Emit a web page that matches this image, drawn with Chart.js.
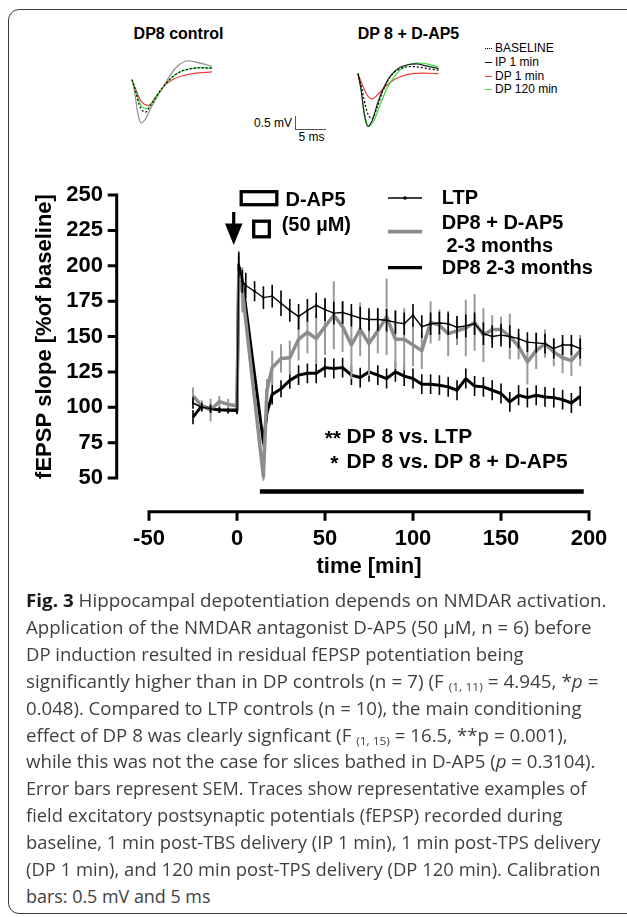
<!DOCTYPE html>
<html>
<head>
<meta charset="utf-8">
<title>Fig. 3</title>
<script src="https://cdn.jsdelivr.net/npm/chart.js@4.4.1/dist/chart.umd.min.js"></script>
<style>
  html, body { margin: 0; padding: 0; background: #fff; }
  body { position: relative; width: 627px; height: 917px; overflow: hidden; font-family: "Liberation Sans", Arial, sans-serif; color: #000; }
  #frame { position: absolute; left: 8px; top: 9px; width: 660px; height: 905px; border: 1.7px solid #3a3a3a; border-radius: 11px; box-sizing: border-box; }
  .abs { position: absolute; white-space: nowrap; }
  .ttl { font-size: 16px; font-weight: bold; transform: translate(-50%, -50%); }
  .tl { font-size: 12px; line-height: 14px; transform: translateY(-50%); }
  .dash { position: absolute; width: 6.5px; height: 0; border-top: 1.2px solid #000; }
  .cap { left: 25.5px; font-family: "Open Sans", sans-serif; font-size: 18px; line-height: 26px; color: #3f3f3f; transform-origin: 0 50%; }
  .cap b { color: #1a1a1a; }
  .cap sub { font-size: 11.5px; vertical-align: -3px; line-height: 0; }
  canvas { position: absolute; }
</style>
</head>
<body>
<div id="frame"></div>

<div class="abs ttl" style="left:178.5px; top:33.5px">DP8 control</div>
<div class="abs ttl" style="left:408.5px; top:33.5px">DP 8 + D-AP5</div>

<div class="dash" style="left:485px; top:48px; border-top-style:dotted"></div>
<div class="abs tl" style="left:495px; top:48.3px">BASELINE</div>
<div class="dash" style="left:485px; top:62px"></div>
<div class="abs tl" style="left:495px; top:62.3px">IP 1 min</div>
<div class="dash" style="left:485px; top:75.5px; border-color:#f03c3c"></div>
<div class="abs tl" style="left:495px; top:75.7px">DP 1 min</div>
<div class="dash" style="left:485px; top:89px; border-color:#33e033"></div>
<div class="abs tl" style="left:495px; top:89px">DP 120 min</div>

<div class="abs tl" style="right:335px; top:123.3px">0.5 mV</div>
<div class="abs" style="left:294.5px; top:116px; width:0; height:13.3px; border-left:1px solid #555"></div>
<div class="abs" style="left:294.5px; top:129px; width:31.5px; height:0; border-top:1px solid #555"></div>
<div class="abs tl" style="left:298.5px; top:137.3px">5 ms</div>

<canvas id="trCtrl" width="87" height="85" style="left:128.7px; top:54.3px"></canvas>
<canvas id="trDap" width="87" height="85" style="left:355px; top:47.6px"></canvas>
<canvas id="main" width="627" height="600" style="left:0; top:0"></canvas>

<div id="caption"></div>

<script>
// time course, min vs fEPSP slope (% of baseline)
const ltpTime = [-25, -20, -15, -10, -5, 0, 1, 3, 5,
  10, 15, 20, 25, 30, 35, 40, 45, 50, 55, 60, 65, 70, 75, 80, 85, 90, 95, 100, 105,
  110, 115, 120, 125, 130, 135, 140, 145, 150, 155, 160, 165, 170, 175, 180, 185, 190, 195];
const ltpMean = [103, 100, 99, 98, 97.5, 97, 201, 189, 186,
  182, 177.5, 178.5, 173.5, 168.5, 164, 168.5, 172, 169, 166.5, 167, 165, 163, 162, 162, 161.5, 160, 159, 165, 157,
  159, 159.5, 159, 156.5, 157.5, 159, 152, 150, 151, 150, 148.5, 146, 145.5, 145, 141.5, 144, 144, 141.5];
const ltpSem = [4, 3, 3, 2, 2, 2, 9, 8, 9,
  7, 8, 8, 9, 8, 9, 8, 9, 8, 8, 8, 8, 8, 8, 8, 8, 8, 8, 8, 8,
  8, 8, 8, 8, 8, 8, 8, 8, 8, 8, 7, 7, 7, 7, 7, 7, 7, 7];

const dapTime = [-25, -20, -15, -10, -5, 0, 1, 3, 15, 17,
  20, 25, 30, 35, 40, 45, 50, 55, 60, 65, 70, 75, 80, 85, 90, 95, 100, 105,
  110, 115, 120, 125, 130, 135, 140, 145, 150, 155, 160, 165, 170, 175, 180, 185, 190, 195];
const dapMean = [108, 101, 98, 104, 102, 101, 196, 183, 51, 112,
  128, 134.5, 135, 148, 153, 148.5, 157, 165, 157, 144, 155, 145, 154, 164, 148, 148, 144, 140,
  160, 158, 152, 154, 156, 160, 151, 155, 155, 150, 143, 132, 140, 145, 139, 135, 133, 140];
const dapSem = [6, 4, 8, 4, 4, 3, 12, 16, 3, 8,
  12, 10, 12, 15, 15, 18, 20, 24, 18, 24, 19, 23, 16, 27, 21, 22, 15, 13,
  15, 11, 16, 10, 20, 20, 19, 10, 9, 16, 9, 16, 13, 10, 10, 11, 11, 11];

const dp8Time = [-25, -20, -15, -10, -5, 0, 1, 3, 15, 17,
  20, 25, 30, 35, 40, 45, 50, 55, 60, 65, 70, 75, 80, 85, 90, 95, 100, 105,
  110, 115, 120, 125, 130, 135, 140, 145, 150, 155, 160, 165, 170, 175, 180, 185, 190, 195];
const dp8Mean = [93, 101, 99, 98, 98, 98, 200, 190, 75, 96,
  109, 113, 119, 122.7, 124, 124, 128, 127.4, 128, 122.7, 121, 125, 122.7, 120.3, 125, 122, 120.3, 116.3,
  116.3, 115.6, 114.4, 112, 120.3, 115, 114.4, 112, 109.7, 103.8, 108.5, 106.8, 108.5, 107.3, 106.8, 105.4, 103, 107.8];
const dp8Sem = [5, 3, 2, 2, 2, 2, 8, 8, 3, 6,
  7, 6, 6, 7, 7, 7, 7, 7, 7, 7, 7, 7, 7, 7, 7, 7, 7, 7,
  7, 7, 7, 7, 7, 7, 7, 7, 7, 7, 7, 7, 7, 7, 7, 7, 7, 7];

// significance bar (min) and its level (% baseline)
const sigBarTime = [13, 197];
const sigBarLevel = 40.5;

// example traces, [ms, mV]
const ctrlBaseline = [[0,0],[0.5,-0.36],[1.2,-0.96],[2.15,-1.21],[3,-0.96],[4,-0.6],[5.1,-0.25],[6.3,0.06],[7.8,0.3],[9.5,0.41],[11,0.44],[12.9,0.43]];
const ctrlIP1 = [[0,0],[0.4,-0.42],[0.9,-1.2],[1.45,-1.62],[2.1,-1.5],[3,-1.08],[4,-0.66],[5.1,-0.25],[6.2,0.18],[7.5,0.54],[9.1,0.71],[11,0.62],[12.9,0.5]];
const ctrlDP1 = [[0,0],[0.5,-0.3],[1.4,-0.78],[2.7,-0.96],[3.6,-0.72],[5.1,-0.25],[6.5,0],[8,0.14],[10,0.24],[12.9,0.29]];
const ctrlDP120 = [[0,0],[0.5,-0.34],[1.3,-0.9],[2.4,-1.09],[3.2,-0.86],[4.1,-0.56],[5.1,-0.25],[6.3,0.06],[7.8,0.3],[9.5,0.42],[11,0.45],[12.9,0.44]];
const dapBaseline = [[0,0],[0.6,-0.54],[1.4,-1.38],[2.26,-1.69],[3,-1.32],[4,-0.66],[5.2,-0.12],[6.8,0.18],[8.5,0.27],[10,0.24],[11.5,0.18],[13,0.13]];
const dapIP1 = [[0,0],[0.5,-0.6],[1,-1.5],[1.6,-1.97],[2.3,-1.74],[3.2,-1.08],[4.2,-0.5],[5.3,-0.06],[6.8,0.24],[8.3,0.35],[9.4,0.37],[11,0.29],[13,0.19]];
const dapDP1 = [[0,0],[0.6,-0.36],[1.4,-0.78],[2.26,-0.94],[3.2,-0.78],[4.5,-0.46],[6,-0.2],[7.5,-0.06],[8.7,0],[10.5,0.02],[13,0]];
const dapDP120 = [[0,0],[0.5,-0.6],[1,-1.44],[1.74,-1.97],[2.6,-1.74],[3.6,-1.14],[4.7,-0.54],[6,-0.06],[7.5,0.26],[9.7,0.4],[11.5,0.35],[13,0.25]];

const FONT = '"Liberation Sans", Arial, sans-serif';
Chart.defaults.font.family = FONT;
Chart.defaults.color = '#000';

function xy(t, v) {
  return t.map((x, i) => ({ x: x, y: v[i] }));
}

// traces
function traceChart(id, sets) {
  new Chart(document.getElementById(id), {
    type: 'line',
    data: {
      datasets: sets.map(s => ({
        data: s.pts.map(p => ({ x: p[0], y: p[1] })),
        borderColor: s.color,
        borderWidth: 1.2,
        borderDash: s.dash || [],
        pointRadius: 0,
        cubicInterpolationMode: 'monotone',
        clip: false
      }))
    },
    options: {
      responsive: false,
      animation: false,
      events: [],
      layout: { padding: { left: 3, top: 3, right: 3.4, bottom: 3.2 } },
      plugins: { legend: { display: false }, tooltip: { enabled: false } },
      scales: {
        x: { type: 'linear', display: false, min: 0, max: 13 },
        y: { display: false, min: -2.1, max: 0.85 }
      }
    }
  });
}

traceChart('trCtrl', [
  { pts: ctrlBaseline, color: '#000', dash: [2, 2] },
  { pts: ctrlDP120, color: '#33e033' },
  { pts: ctrlDP1, color: '#f03c3c' },
  { pts: ctrlIP1, color: '#8a8a8a' }
]);
traceChart('trDap', [
  { pts: dapBaseline, color: '#000', dash: [2, 2] },
  { pts: dapIP1, color: '#222' },
  { pts: dapDP120, color: '#33e033' },
  { pts: dapDP1, color: '#f03c3c' }
]);

// error bars under each line
const errorBars = {
  id: 'errorBars',
  beforeDatasetDraw(chart, args) {
    const ds = chart.data.datasets[args.index];
    if (!ds.sem) return;
    const { ctx, scales: { x, y } } = chart;
    ctx.save();
    ctx.strokeStyle = ds.errColor;
    ctx.lineWidth = ds.errWidth;
    ctx.beginPath();
    ds.data.forEach((p, i) => {
      const px = x.getPixelForValue(p.x);
      ctx.moveTo(px, y.getPixelForValue(p.y - ds.sem[i]));
      ctx.lineTo(px, y.getPixelForValue(p.y + ds.sem[i]));
    });
    ctx.stroke();
    ctx.restore();
  }
};

// detached axes like prism
const axisLines = {
  id: 'axisLines',
  afterDraw(chart) {
    const { ctx, chartArea, scales: { x, y } } = chart;
    const ax = chartArea.left - 32.3;
    const ay = chartArea.bottom + 33.7;
    ctx.save();
    ctx.strokeStyle = '#000';
    ctx.lineWidth = 3;
    ctx.beginPath();
    ctx.moveTo(ax, y.getPixelForValue(y.max) - 1.5);
    ctx.lineTo(ax, y.getPixelForValue(y.min) + 1.5);
    y.ticks.forEach(t => {
      const py = y.getPixelForValue(t.value);
      ctx.moveTo(ax - 9, py);
      ctx.lineTo(ax, py);
    });
    ctx.moveTo(x.getPixelForValue(x.min) - 1.5, ay);
    ctx.lineTo(x.getPixelForValue(x.max) + 1.5, ay);
    x.ticks.forEach(t => {
      const px = x.getPixelForValue(t.value);
      ctx.moveTo(px, ay);
      ctx.lineTo(px, ay + 9);
    });
    ctx.stroke();
    ctx.restore();
  }
};

// D-AP5 marks, legend, stats
const annotations = {
  id: 'annotations',
  afterDraw(chart) {
    const ctx = chart.ctx;
    const ds = chart.data.datasets;
    ctx.save();
    ctx.fillStyle = '#000';
    ctx.strokeStyle = '#000';

    // induction arrow
    ctx.fillRect(232.1, 212, 3.2, 12);
    ctx.beginPath();
    ctx.moveTo(225, 223.5);
    ctx.lineTo(242.5, 223.5);
    ctx.lineTo(233.7, 245);
    ctx.closePath();
    ctx.fill();

    // D-AP5 boxes
    ctx.lineWidth = 3.3;
    ctx.strokeRect(241.2, 191.7, 35.6, 13);
    ctx.strokeRect(253.7, 221.2, 15.6, 15.6);

    ctx.font = 'bold 20px ' + FONT;
    ctx.textBaseline = 'middle';
    ctx.textAlign = 'left';
    ctx.fillText('D-AP5', 285.5, 200);
    ctx.fillText('(50 µM)', 281.7, 225);

    // legend
    const rows = [
      { y: 198, ds: ds[0] },
      { y: 231.7, ds: ds[1] },
      { y: 267.7, ds: ds[2] }
    ];
    rows.forEach(r => {
      ctx.strokeStyle = r.ds.borderColor;
      ctx.lineWidth = r.ds.borderWidth + 0.2;
      ctx.beginPath();
      ctx.moveTo(388, r.y);
      ctx.lineTo(422, r.y);
      ctx.stroke();
    });
    ctx.beginPath();
    ctx.arc(405, 198, 1.8, 0, Math.PI * 2);
    ctx.fill();
    ctx.fillText('LTP', 441.7, 198);
    ctx.fillText('DP8 + D-AP5', 441.7, 223);
    ctx.fillText('2-3 months', 446.5, 246.7);
    ctx.fillText('DP8 2-3 months', 441.7, 268);

    // statistics
    ctx.font = 'bold 21px ' + FONT;
    ctx.textBaseline = 'alphabetic';
    ctx.textAlign = 'right';
    ctx.fillText('**', 341, 445);
    ctx.fillText('*', 338.5, 470);
    ctx.textAlign = 'left';
    ctx.fillText('DP 8 vs. LTP', 346.5, 442.5);
    ctx.fillText('DP 8 vs. DP 8 + D-AP5', 346.5, 467.5);
    ctx.restore();
  }
};

new Chart(document.getElementById('main'), {
  type: 'line',
  data: {
    datasets: [
      {
        label: 'LTP',
        data: xy(ltpTime, ltpMean),
        sem: ltpSem,
        errColor: '#000',
        errWidth: 1.6,
        borderColor: '#000',
        borderWidth: 1.4,
        pointRadius: 1.2,
        pointBorderWidth: 0,
        pointBackgroundColor: '#000'
      },
      {
        label: 'DP8 + D-AP5 2-3 months',
        data: xy(dapTime, dapMean),
        sem: dapSem,
        errColor: '#999',
        errWidth: 2,
        borderColor: '#8c8c8c',
        borderWidth: 3.5,
        borderJoinStyle: 'round',
        pointRadius: 0
      },
      {
        label: 'DP8 2-3 months',
        data: xy(dp8Time, dp8Mean),
        sem: dp8Sem,
        errColor: '#000',
        errWidth: 1.6,
        borderColor: '#000',
        borderWidth: 3,
        borderJoinStyle: 'round',
        pointRadius: 0
      },
      {
        label: 'significance',
        data: xy(sigBarTime, [sigBarLevel, sigBarLevel]),
        borderColor: '#000',
        borderWidth: 4.5,
        pointRadius: 0,
        clip: false
      }
    ]
  },
  options: {
    responsive: false,
    animation: false,
    events: [],
    layout: { padding: { top: 195, right: 38, left: 0, bottom: 0 } },
    plugins: { legend: { display: false }, tooltip: { enabled: false } },
    scales: {
      x: {
        type: 'linear',
        min: -50,
        max: 200,
        ticks: { stepSize: 50, padding: 48, font: { size: 22, weight: 'bold' }, color: '#000' },
        grid: { display: false, drawTicks: false },
        border: { display: false },
        title: {
          display: true,
          text: 'time [min]',
          color: '#000',
          font: { size: 22, weight: 'bold' },
          padding: { top: 0, bottom: 20 }
        },
        afterFit(s) {
          s.height = 122;
          // tick padding is vertical here, don't let it widen the side margins
          s.paddingLeft = 20;
          s.paddingRight = 20;
        }
      },
      y: {
        min: 50,
        max: 250,
        ticks: { stepSize: 25, padding: 46, font: { size: 22, weight: 'bold' }, color: '#000' },
        grid: { display: false, drawTicks: false },
        border: { display: false },
        title: {
          display: true,
          text: 'fEPSP slope [%of baseline]',
          color: '#000',
          font: { size: 22, weight: 'bold' },
          padding: { top: 32, bottom: 0 }
        },
        afterFit(s) { s.width = 149; }
      }
    }
  },
  plugins: [errorBars, axisLines, annotations]
});

// caption
const captionLines = [
  '<b>Fig. 3</b> Hippocampal depotentiation depends on NMDAR activation.',
  'Application of the NMDAR antagonist D-AP5 (50 µM, n = 6) before',
  'DP induction resulted in residual fEPSP potentiation being',
  'significantly higher than in DP controls (n = 7) (F <sub>(1, 11)</sub> = 4.945, *<i>p</i> =',
  '0.048). Compared to LTP controls (n = 10), the main conditioning',
  'effect of DP 8 was clearly signficant (F <sub>(1, 15)</sub> = 16.5, **p = 0.001),',
  'while this was not the case for slices bathed in D-AP5 (<i>p</i> = 0.3104).',
  'Error bars represent SEM. Traces show representative examples of',
  'field excitatory postsynaptic potentials (fEPSP) recorded during',
  'baseline, 1 min post-TBS delivery (IP 1 min), 1 min post-TPS delivery',
  '(DP 1 min), and 120 min post-TPS delivery (DP 120 min). Calibration',
  'bars: 0.5 mV and 5 ms'
];
const captionRight = [606, 591, 523, 598, 581, 567, 595, 586, 562, 600, 600, 210];
const cap = document.getElementById('caption');
captionLines.forEach((html, i) => {
  const d = document.createElement('div');
  d.className = 'abs cap';
  d.style.top = (587 + 26.9 * i) + 'px';
  d.innerHTML = html;
  cap.appendChild(d);
  const w = d.getBoundingClientRect().width;
  d.style.transform = 'scaleX(' + ((captionRight[i] - 25.5) / w) + ')';
});
</script>
</body>
</html>
